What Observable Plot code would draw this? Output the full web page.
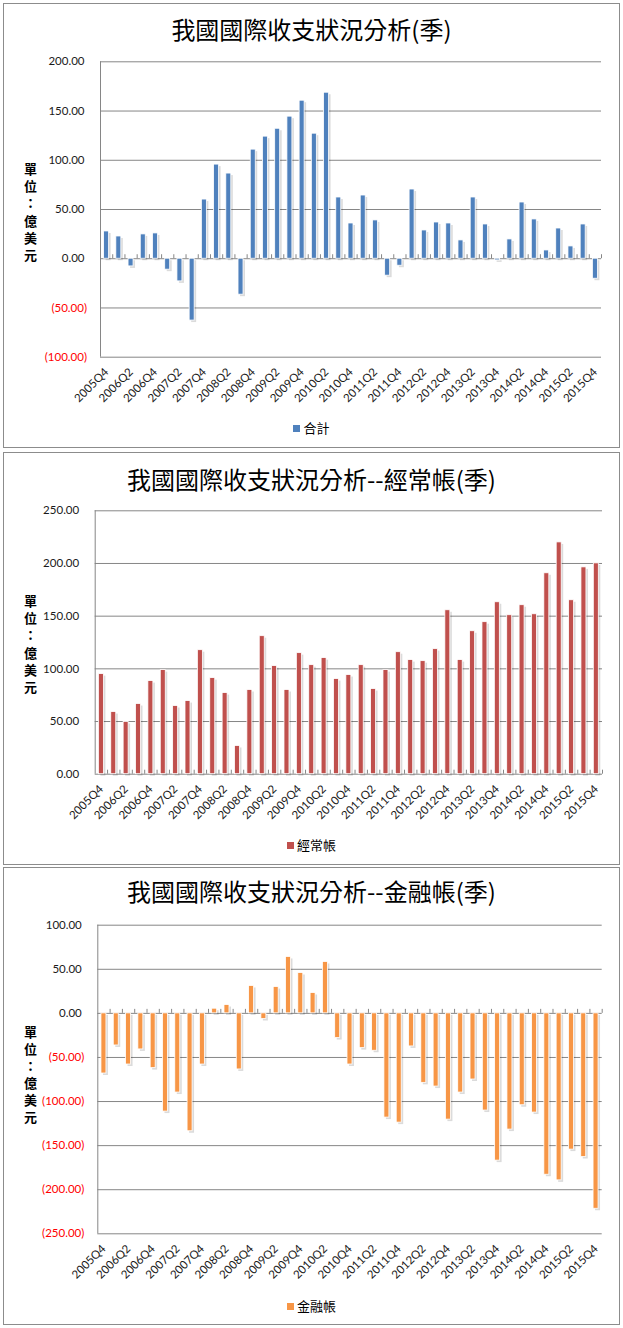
<!DOCTYPE html>
<html><head><meta charset="utf-8">
<script src="https://cdn.jsdelivr.net/npm/d3@7"></script>
<script src="https://cdn.jsdelivr.net/npm/@observablehq/plot@0.6"></script>
<style>
body{margin:0;background:#fff;}
#page{position:relative;width:623px;height:1328px;overflow:hidden;font-family:"Noto Sans CJK TC",sans-serif;}
.box{position:absolute;left:3px;width:617px;box-sizing:border-box;border:1px solid #8c8c8c;background:#fff;}
.title{position:absolute;left:3px;width:617px;text-align:center;font-size:24px;line-height:30px;color:#000;white-space:nowrap;}
.legend{position:absolute;left:3px;width:617px;text-align:center;font-size:13px;line-height:16px;color:#000;}
.legend .sw{display:inline-block;width:7px;height:7px;margin-right:3px;vertical-align:1px;}
.chart{position:absolute;left:4px;}
</style></head><body><div id="page"></div>
<script>
const quarters = ["2005Q4",
 "2006Q1","2006Q2","2006Q3","2006Q4",
 "2007Q1","2007Q2","2007Q3","2007Q4",
 "2008Q1","2008Q2","2008Q3","2008Q4",
 "2009Q1","2009Q2","2009Q3","2009Q4",
 "2010Q1","2010Q2","2010Q3","2010Q4",
 "2011Q1","2011Q2","2011Q3","2011Q4",
 "2012Q1","2012Q2","2012Q3","2012Q4",
 "2013Q1","2013Q2","2013Q3","2013Q4",
 "2014Q1","2014Q2","2014Q3","2014Q4",
 "2015Q1","2015Q2","2015Q3","2015Q4"];
const tickLabels = ["2005Q4","2006Q2","2006Q4","2007Q2","2007Q4","2008Q2","2008Q4","2009Q2","2009Q4","2010Q2","2010Q4","2011Q2","2011Q4","2012Q2","2012Q4","2013Q2","2013Q4","2014Q2","2014Q4","2015Q2","2015Q4"];
const total = [27.7, 22.6, -7.8, 24.7, 25.7, -11.1, -23.0, -62.8, 60.1, 95.6, 86.5, -36.5, 110.8, 124.0, 132.0, 144.3, 160.5, 127.0, 168.6, 62.2, 35.8, 64.2, 38.9, -17.2, -7.1, 70.3, 28.7, 36.8, 35.8, 18.6, 62.2, 34.8, -1.7, 19.6, 57.1, 39.9, 8.4, 30.7, 12.5, 34.8, -20.3];
const current = [95.0, 59.0, 49.6, 66.6, 88.4, 98.8, 64.7, 69.4, 117.7, 91.2, 77.0, 26.8, 79.9, 131.0, 102.6, 79.9, 114.9, 103.5, 110.2, 90.3, 94.1, 103.5, 80.8, 98.8, 115.8, 108.3, 107.3, 118.7, 155.6, 108.3, 135.7, 144.3, 163.2, 150.9, 160.4, 151.8, 190.7, 220.0, 165.1, 196.3, 200.1];
const financial = [-68.2, -36.4, -58.0, -40.9, -62.1, -111.4, -89.8, -133.7, -58.0, 5.3, 9.5, -63.6, 31.1, -6.4, 29.9, 64.0, 45.8, 23.1, 58.3, -28.0, -58.0, -39.4, -42.4, -118.2, -123.9, -37.5, -78.8, -83.0, -120.5, -89.8, -75.0, -110.2, -167.0, -131.8, -104.2, -112.5, -183.0, -189.4, -154.5, -162.9, -221.6];
const ticksTotal = [-100, -50, 0, 50, 100, 150, 200];
const ticksCurrent = [0, 50, 100, 150, 200, 250];
const ticksFinancial = [-250, -200, -150, -100, -50, 0, 50, 100];
const titles = ["我國國際收支狀況分析(季)", "我國國際收支狀況分析--經常帳(季)", "我國國際收支狀況分析--金融帳(季)"];
const seriesNames = ["合計", "經常帳", "金融帳"];
const yTitle = "單\n位\n：\n億\n美\n元";

const page = document.getElementById("page");
const fmt2 = d3.format(".2f");
const fmt = d => d < 0 ? "(" + fmt2(-d) + ")" : fmt2(d);

const charts = [
  {values: total, ticks: ticksTotal, color: "#4f81bd", name: seriesNames[0], title: titles[0],
   boxTop: 3, boxH: 445, titleTop: 14, legendTop: 420,
   svgTop: 4, height: 410, mL: 96, mR: 17, mT: 57.3, mB: 57.3, yDy: 2},
  {values: current, ticks: ticksCurrent, color: "#c0504d", name: seriesNames[1], title: titles[1],
   boxTop: 452, boxH: 413, titleTop: 463.5, legendTop: 837,
   svgTop: 453, height: 377, mL: 90.7, mR: 16, mT: 57.3, mB: 56.3, yDy: 1},
  {values: financial, ticks: ticksFinancial, color: "#f79646", name: seriesNames[2], title: titles[2],
   boxTop: 867, boxH: 458, titleTop: 876, legendTop: 1297.7,
   svgTop: 868, height: 424, mL: 93.3, mR: 16.3, mT: 56.7, mB: 58.7, yDy: -5.5}
];

const W = 614;
for (const c of charts) {
  const box = document.createElement("div");
  box.className = "box";
  box.style.top = c.boxTop + "px";
  box.style.height = c.boxH + "px";
  page.appendChild(box);

  const data = quarters.map((q, i) => ({q, v: c.values[i]}));
  const step = (W - c.mL - c.mR) / quarters.length;
  const inset = (step - 5) / 2;
  const pos = c.ticks.filter(d => d >= 0);
  const neg = c.ticks.filter(d => d < 0);
  const svg = Plot.plot({
    width: W, height: c.height,
    marginLeft: c.mL, marginRight: c.mR, marginTop: c.mT, marginBottom: c.mB,
    style: {background: "transparent", fontFamily: "Lato, sans-serif", fontSize: "11.5px", color: "#1a1a1a"},
    x: {type: "band", domain: quarters, padding: 0, round: false},
    y: {domain: d3.extent(c.ticks), axis: null},
    marks: [
      Plot.ruleY(c.ticks, {stroke: "#868686", strokeWidth: 1}),
      Plot.ruleX([quarters[0]], {dx: -step / 2, stroke: "#868686"}),
      Plot.ruleX(quarters, {y1: 0, y2: 0, dx: step / 2, insetTop: -4, stroke: "#868686"}),
      Plot.barY(data, {x: "q", y: "v", fill: "#000", fillOpacity: 0.14, dx: 2, dy: 2, insetLeft: inset, insetRight: inset}),
      Plot.barY(data, {x: "q", y: "v", fill: c.color, stroke: "#fff", strokeWidth: 0.8, insetLeft: inset, insetRight: inset}),
      Plot.text(pos, {y: d => d, text: fmt, frameAnchor: "left", textAnchor: "end", dx: -16, fill: "#1a1a1a"}),
      Plot.text(neg, {y: d => d, text: fmt, frameAnchor: "left", textAnchor: "end", dx: -13.5, fill: "#ff0000"}),
      Plot.text([yTitle], {text: d => d, frameAnchor: "left", textAnchor: "middle", dx: 26 - c.mL, dy: c.yDy, fontSize: 13, fontWeight: "bold", lineHeight: 1.32, fontFamily: "Noto Sans CJK TC", fill: "#000"}),
      Plot.axisX({ticks: tickLabels, tickRotate: -45, tickSize: 0, tickPadding: 13, anchor: "bottom", label: null})
    ]
  });
  svg.classList.add("chart");
  svg.style.position = "absolute";
  svg.style.left = "4px";
  svg.style.top = c.svgTop + "px";
  page.appendChild(svg);

  const t = document.createElement("div");
  t.className = "title";
  t.style.top = c.titleTop + "px";
  t.textContent = c.title;
  page.appendChild(t);

  const lg = document.createElement("div");
  lg.className = "legend";
  lg.style.top = c.legendTop + "px";
  lg.innerHTML = `<span class="sw" style="background:${c.color}"></span>${c.name}`;
  page.appendChild(lg);
}
</script>
</body></html>
